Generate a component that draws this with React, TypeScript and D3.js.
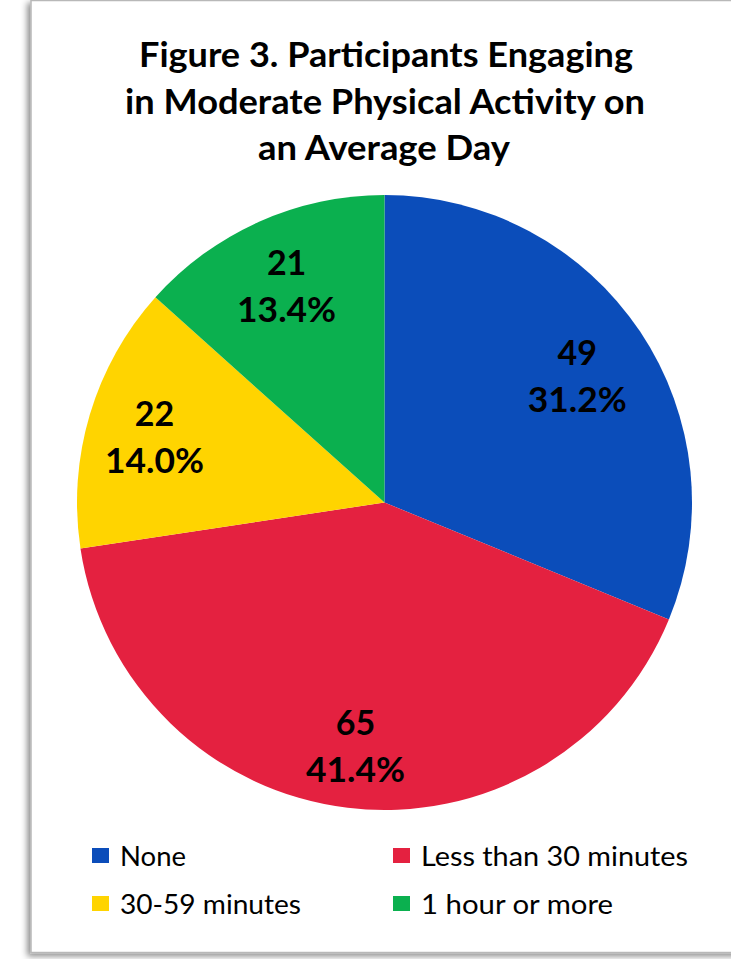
import React from "react";
import * as d3 from "d3";

const categories = ["None", "Less than 30 minutes", "30-59 minutes", "1 hour or more"];
const counts = [49, 65, 22, 21];
const percents = ["31.2%", "41.4%", "14.0%", "13.4%"];
const colors = ["#0B4DBA", "#E42140", "#FFD400", "#0BB04F"];
const titleLines = ["Figure 3. Participants Engaging", "in Moderate Physical Activity on", "an Average Day"];

const W = 731;
const H = 959;
const FONT = "Lato, 'Open Sans', sans-serif";

export default function App() {
  const cx = 384.5;
  const cy = 502.5;
  const r = 307.5;
  const pie = d3.pie<number>().sort(null).value((d) => d);
  const arcs = pie(counts);
  const arc = d3.arc<d3.PieArcDatum<number>>().innerRadius(0).outerRadius(r);
  const labelRadii = [232, 242, 240, 240];

  const titleX = [386, 385, 384];
  const titleBase = [67, 113.5, 160];
  const titleLen = [494, 520, 252];

  const legendPos = [
    { x: 92, y: 848, tl: 66 },
    { x: 393, y: 848, tl: 267 },
    { x: 92, y: 896, tl: 181 },
    { x: 393, y: 896, tl: 192 },
  ];

  return (
    <svg width={W} height={H} style={{ position: "absolute", left: 0, top: 0 }}>
      <defs>
        <filter id="sh" x="-10%" y="-10%" width="120%" height="120%">
          <feDropShadow dx={-3} dy={3} stdDeviation={3} floodColor="#000" floodOpacity={0.45} />
        </filter>
      </defs>
      <rect x={0} y={0} width={W} height={H} fill="#fff" />
      <rect x={31} y={0.5} width={740} height={952} fill="#fff" stroke="#b8b8b8" strokeWidth={1.5} filter="url(#sh)" />
      {titleLines.map((t, i) => (
        <text
          key={i}
          x={titleX[i]}
          y={titleBase[i]}
          textAnchor="middle"
          fontFamily={FONT}
          fontWeight={700}
          fontSize={35}
          textLength={titleLen[i]}
          lengthAdjust="spacingAndGlyphs"
          fill="#000"
        >
          {t}
        </text>
      ))}
      <g transform={`translate(${cx},${cy})`}>
        {arcs.map((a, i) => (
          <path key={i} d={arc(a) || ""} fill={colors[i]} />
        ))}
        {arcs.map((a, i) => {
          const la = d3.arc<d3.PieArcDatum<number>>().innerRadius(labelRadii[i]).outerRadius(labelRadii[i]);
          const [lx, ly] = la.centroid(a);
          return (
            <g key={"l" + i} fontFamily={FONT} fontWeight={700} fontSize={34} fill="#000" textAnchor="middle">
              <text x={lx} y={ly - 8}>{counts[i]}</text>
              <text x={lx} y={ly + 39} textLength={99} lengthAdjust="spacingAndGlyphs">{percents[i]}</text>
            </g>
          );
        })}
      </g>
      {categories.map((c, i) => (
        <g key={"lg" + i}>
          <rect x={legendPos[i].x} y={legendPos[i].y} width={17} height={15} fill={colors[i]} />
          <text
            x={legendPos[i].x + 28}
            y={legendPos[i].y + 18}
            fontFamily={FONT}
            fontSize={26}
            textLength={legendPos[i].tl}
            lengthAdjust="spacingAndGlyphs"
            fill="#000"
          >
            {c}
          </text>
        </g>
      ))}
    </svg>
  );
}
